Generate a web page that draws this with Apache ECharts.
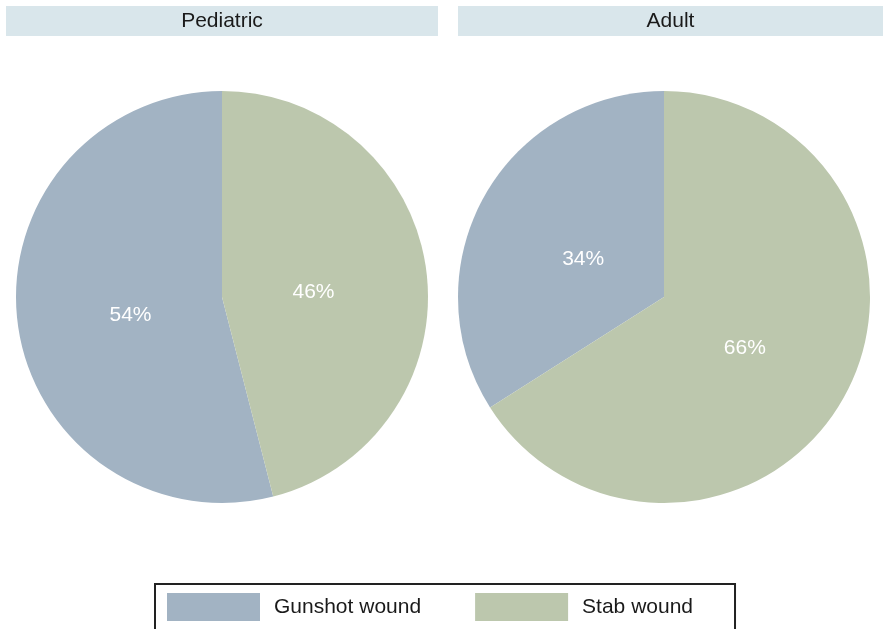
<!DOCTYPE html>
<html>
<head>
<meta charset="utf-8">
<title>Wound type by age group</title>
<script src="https://cdn.jsdelivr.net/npm/echarts@6/dist/echarts.min.js"></script>
<style>
  html, body { margin: 0; padding: 0; background: #ffffff; }
  #chart { width: 889px; height: 629px; }
</style>
</head>
<body>
<div id="chart"></div>
<script>
// Wound categories and panel groups
const categories = ['Gunshot wound', 'Stab wound'];
const panels = ['Pediatric', 'Adult'];
// Percent share of each wound type per panel
const pediatricValues = [54, 46];
const adultValues = [34, 66];

const colors = ['#a2b3c3', '#bcc7ad'];
const font = 'Liberation Sans, Arial, Helvetica, sans-serif';

const centers = [[222, 297], [664, 297]];
const radius = 206;

function pieSeries(name, values, idx) {
  const c = centers[idx];
  return {
    name: name,
    type: 'pie',
    center: c,
    radius: radius,
    startAngle: 90,
    clockwise: false,
    silent: true,
    animation: false,
    itemStyle: { borderWidth: 0 },
    label: {
      show: true,
      position: 'inside',
      formatter: '{c}%',
      color: '#ffffff',
      fontFamily: font,
      fontSize: 21
    },
    labelLine: { show: false },
    // pull the labels slightly toward the pie center
    labelLayout: function (p) {
      const r = p.labelRect;
      const lx = r.x + r.width / 2;
      const ly = r.y + r.height / 2;
      return {
        x: c[0] + (lx - c[0]) * 0.87,
        y: c[1] + (ly - c[1]) * 0.87 + 7
      };
    },
    data: categories.map((n, i) => ({ name: n, value: values[i] }))
  };
}

function stripHeader(text, left, width) {
  return {
    type: 'group',
    left: left,
    top: 6,
    children: [
      {
        type: 'rect',
        shape: { x: 0, y: 0, width: width, height: 30 },
        style: { fill: '#d9e6eb' }
      },
      {
        type: 'text',
        x: width / 2,
        y: 15,
        style: {
          text: text,
          fill: '#1a1a1a',
          font: '21px ' + font,
          textAlign: 'center',
          textVerticalAlign: 'middle'
        }
      }
    ]
  };
}

const chart = echarts.init(document.getElementById('chart'), null, { renderer: 'canvas' });
chart.setOption({
  backgroundColor: '#ffffff',
  animation: false,
  color: colors,
  graphic: [
    stripHeader(panels[0], 6, 432),
    stripHeader(panels[1], 458, 425)
  ],
  legend: {
    left: 155,
    top: 584,
    orient: 'horizontal',
    data: categories,
    itemWidth: 93,
    itemHeight: 28,
    itemGap: 54,
    icon: 'rect',
    padding: [9, 42, 30, 12],
    borderColor: '#222222',
    borderWidth: 2,
    selectedMode: false,
    textStyle: {
      color: '#1a1a1a',
      fontFamily: font,
      fontSize: 21,
      padding: [0, 0, 0, 9]
    }
  },
  series: [
    pieSeries(panels[0], pediatricValues, 0),
    pieSeries(panels[1], adultValues, 1)
  ]
});
</script>
</body>
</html>
